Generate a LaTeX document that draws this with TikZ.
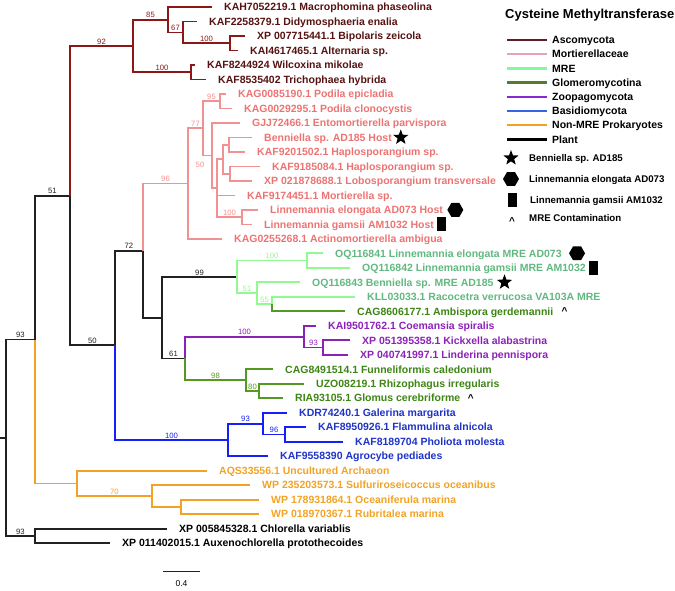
\documentclass[tikz,border=0pt]{standalone}
\usepackage{fontspec}
\setmainfont{Liberation Sans}
\usetikzlibrary{calc,positioning,shapes.geometric}
\definecolor{asco}{rgb}{0.55,0.09,0.09}
\definecolor{ascotext}{rgb}{0.34,0.07,0.07}
\definecolor{mort}{rgb}{0.95,0.57,0.57}
\definecolor{morttext}{rgb}{0.93,0.45,0.45}
\definecolor{mre}{rgb}{0.57,0.98,0.57}
\definecolor{mretext}{rgb}{0.38,0.72,0.50}
\definecolor{glom}{rgb}{0.33,0.60,0.13}
\definecolor{glomtext}{rgb}{0.24,0.52,0.08}
\definecolor{zoop}{rgb}{0.55,0.13,0.72}
\definecolor{basid}{rgb}{0.08,0.12,0.98}
\definecolor{basidtext}{rgb}{0.12,0.20,0.78}
\definecolor{prok}{rgb}{0.95,0.64,0.15}
\definecolor{plant}{rgb}{0.13,0.13,0.13}
\definecolor{ascokey}{rgb}{0.40,0.10,0.16}
\definecolor{mortkey}{rgb}{0.93,0.62,0.72}
\definecolor{mrekey}{rgb}{0.50,0.98,0.62}
\definecolor{glomkey}{rgb}{0.33,0.49,0.16}
\definecolor{zoopkey}{rgb}{0.55,0.16,0.80}
\definecolor{basidkey}{rgb}{0.20,0.40,0.90}
\tikzset{branch/.style={line width=1.8pt}}
\tikzset{leaf/.style={anchor=west, inner sep=0pt, xshift=12pt, text height=7.5pt, text depth=0pt, font=\fontsize{10.5}{12}\selectfont\bfseries}}
\tikzset{boot/.style={anchor=south, inner sep=1.5pt, font=\fontsize{7.7}{8}\selectfont}}
\tikzset{key/.style={anchor=west, inner sep=0pt, text height=7.5pt, text depth=0pt, font=\fontsize{10.5}{12}\selectfont\bfseries}}
\tikzset{symtext/.style={anchor=west, inner sep=0pt, text height=7pt, text depth=0pt, font=\fontsize{9.7}{11}\selectfont\bfseries}}
\tikzset{starmark/.style={star, star points=5, star point ratio=2.4, fill=black, minimum size=16pt, inner sep=0pt}}
\tikzset{hexmark/.style={regular polygon, regular polygon sides=6, fill=black, minimum size=16pt, inner sep=0pt}}
\tikzset{sqmark/.style={rectangle, fill=black, minimum width=9pt, minimum height=14pt, inner sep=0pt}}
\tikzset{caret/.style={inner sep=0pt, font=\fontsize{10}{11}\selectfont\bfseries}}

\begin{document}
\begin{tikzpicture}[x=1pt, y=-1pt]
\useasboundingbox (0,0) rectangle (675,590);
\foreach \n/\x/\y in {stub/0/437.7, root/6/437.7, n93a/35/339.5, p93/35/535.95, n51/70/195.6, n50/115/345.25,
  n72/143/250.6, n318/162/317.65, n61/185/358.4, aAll/133/45.95, a1234/168/19.7, a234/183/32.4, a34/230/43.25,
  a56/191/72.2, m96/188/183.55, m77/203/128.3, m95/220/101.15, mX/212/155.5, mY/217/188.15, mP3/223/159.15,
  mP1/229/144.65, mP2/230/173.65, mL/242/217.15, mre99/237/276.9, mre100/307/260.55, mre51/257/293.2,
  mre55/272/304.05, z100/304/336.7, z93/323/347.55, g98/246/380.1, g80/259/390.95, b100/228/439.9,
  b93/263/423.6, b96/285/434.45, oAll/77/483.4, o70/152/496.1, o3/181/506.95}
  \coordinate (\n) at (\x,\y);

\foreach \n/\x/\y/\t in {macro/212/7.0/KAH7052219.1 Macrophomina phaseolina, didym/197/21.5/KAF2258379.1 Didymosphaeria enalia,
  bipol/245/36.0/XP 007715441.1 Bipolaris zeicola, alter/238/50.5/KAI4617465.1 Alternaria sp.,
  wilco/195/65.0/KAF8244924 Wilcoxina mikolae, trich/206/79.4/KAF8535402 Trichophaea hybrida} {
  \coordinate (\n) at (\x,\y);
  \node[leaf, text=ascotext] (\n l) at (\n) {\t};
}
\foreach \n/\x/\y/\t in {podep/226/93.9/KAG0085190.1 Podila epicladia, podcl/232/108.4/KAG0029295.1 Podila clonocystis,
  entom/240/122.9/GJJ72466.1 Entomortierella parvispora, benhost/252/137.4/Benniella sp. AD185 Host,
  hapla/245/151.9/KAF9201502.1 Haplosporangium sp., haplb/260/166.4/KAF9185084.1 Haplosporangium sp.,
  lobos/252/180.9/XP 021878688.1 Lobosporangium transversale, morti/235/195.4/KAF9174451.1 Mortierella sp.,
  lelhost/258/209.9/Linnemannia elongata AD073 Host, lgahost/252/224.4/Linnemannia gamsii AM1032 Host,
  actin/222/238.8/KAG0255268.1 Actinomortierella ambigua} {
  \coordinate (\n) at (\x,\y);
  \node[leaf, text=morttext] (\n l) at (\n) {\t};
}
\foreach \n/\x/\y/\t in {lelmre/323/253.3/OQ116841 Linnemannia elongata MRE AD073, lgamre/350/267.8/OQ116842 Linnemannia gamsii MRE AM1032,
  benmre/300/282.3/OQ116843 Benniella sp. MRE AD185, racoc/355/296.8/KLL03033.1 Racocetra verrucosa VA103A MRE} {
  \coordinate (\n) at (\x,\y);
  \node[leaf, text=mretext] (\n l) at (\n) {\t};
}
\foreach \n/\x/\y/\t in {ambis/345/311.3/CAG8606177.1 Ambispora gerdemannii, funne/273/369.3/CAG8491514.1 Funneliformis caledonium,
  rhizo/304/383.7/UZO08219.1 Rhizophagus irregularis, glomu/283/398.2/RIA93105.1 Glomus cerebriforme} {
  \coordinate (\n) at (\x,\y);
  \node[leaf, text=glomtext] (\n l) at (\n) {\t};
}
\foreach \n/\x/\y/\t in {coema/316/325.8/KAI9501762.1 Coemansia spiralis, kickx/350/340.3/XP 051395358.1 Kickxella alabastrina,
  linde/348/354.8/XP 040741997.1 Linderina pennispora} {
  \coordinate (\n) at (\x,\y);
  \node[leaf, text=zoop] (\n l) at (\n) {\t};
}
\foreach \n/\x/\y/\t in {galer/287/412.7/KDR74240.1 Galerina margarita, flamm/306/427.2/KAF8950926.1 Flammulina alnicola,
  pholi/343/441.7/KAF8189704 Pholiota molesta, agroc/268/456.2/KAF9558390 Agrocybe pediades} {
  \coordinate (\n) at (\x,\y);
  \node[leaf, text=basidtext] (\n l) at (\n) {\t};
}
\foreach \n/\x/\y/\t in {archa/207/470.7/AQS33556.1 Uncultured Archaeon, sulfu/250/485.2/WP 235203573.1 Sulfuriroseicoccus oceanibus,
  ocean/259/499.7/WP 178931864.1 Oceaniferula marina, rubri/259/514.2/WP 018970367.1 Rubritalea marina} {
  \coordinate (\n) at (\x,\y);
  \node[leaf, text=prok] (\n l) at (\n) {\t};
}
\foreach \n/\x/\y/\t in {chlor/167/528.7/XP 005845328.1 Chlorella variablis, auxen/110/543.2/XP 011402015.1 Auxenochlorella protothecoides} {
  \coordinate (\n) at (\x,\y);
  \node[leaf, text=black] (\n l) at (\n) {\t};
}

\draw[branch, plant] (stub) -- (root);
\foreach \p/\c in {root/n93a, root/p93, n93a/n51, n51/n50, n50/n72, n72/n318, n318/mre99, n318/n61, p93/chlor, p93/auxen}
  \draw[branch, plant] (\p) |- (\c);
\foreach \p/\c in {n51/aAll, aAll/a1234, aAll/a56, a1234/macro, a1234/a234, a234/didym, a234/a34, a34/bipol, a34/alter, a56/wilco, a56/trich}
  \draw[branch, asco] (\p) |- (\c);
\foreach \p/\c in {n72/m96, m96/m77, m96/actin, m77/m95, m77/mX, mX/entom, mX/mY, m95/podep, m95/podcl, mY/mP3, mY/morti,
  mY/mL, mP3/mP1, mP3/mP2, mP1/benhost, mP1/hapla, mP2/haplb, mP2/lobos, mL/lelhost, mL/lgahost}
  \draw[branch, mort] (\p) |- (\c);
\foreach \p/\c in {mre99/mre100, mre99/mre51, mre100/lelmre, mre100/lgamre, mre51/benmre, mre51/mre55, mre55/racoc}
  \draw[branch, mre] (\p) |- (\c);
\foreach \p/\c in {mre55/ambis, n61/g98, g98/funne, g98/g80, g80/rhizo, g80/glomu}
  \draw[branch, glom] (\p) |- (\c);
\foreach \p/\c in {n61/z100, z100/coema, z100/z93, z93/kickx, z93/linde}
  \draw[branch, zoop] (\p) |- (\c);
\foreach \p/\c in {n50/b100, b100/b93, b100/agroc, b93/galer, b93/b96, b96/flamm, b96/pholi}
  \draw[branch, basid] (\p) |- (\c);
\foreach \p/\c in {n93a/oAll, oAll/archa, oAll/o70, o70/sulfu, o70/o3, o3/ocean, o3/rubri}
  \draw[branch, prok] (\p) |- (\c);

\foreach \p/\c/\b/\k in {root/n93a/93/plant, root/p93/93/plant, n93a/n51/51/plant, n51/n50/50/plant, n50/n72/72/plant,
  n318/mre99/99/plant, n318/n61/61/plant, n51/aAll/92/asco, aAll/a1234/85/asco, a1234/a234/67/asco, a234/a34/100/asco,
  aAll/a56/100/asco, n72/m96/96/mort, m96/m77/77/mort, m77/m95/95/mort, mY/mL/100/mort,
  mre99/mre100/100/mre, mre99/mre51/51/mre, mre51/mre55/55/mre, n61/z100/100/zoop, z100/z93/93/zoop,
  n61/g98/98/glom, g98/g80/80/glom, n50/b100/100/basid, b100/b93/93/basid, b93/b96/96/basid, oAll/o70/70/prok}
  \node[boot, text=\k] (bs\c) at ($(\p |- \c)!0.5!(\c)$) {\b};
\node[boot, text=mort] (bsmX) at (200,169) {50};

\node[starmark, right=4pt of benhostl] (s1) {};
\node[hexmark, right=4pt of lelhostl] (s2) {};
\node[sqmark, right=3pt of lgahostl] (s3) {};
\node[hexmark, right=7pt of lelmrel] (s4) {};
\node[sqmark, right=3pt of lgamrel] (s5) {};
\node[starmark, right=6pt of benmrel] (s6) {};
\node[caret, right=8pt of ambisl] (s7) {\textasciicircum};
\node[caret, right=7pt of glomul] (s8) {\textasciicircum};

\node[anchor=west, inner sep=0pt, font=\fontsize{13}{14}\selectfont\bfseries] (title) at (505,15) {Cysteine Methyltransferase};
\foreach \k/\t [count=\i] in {ascokey/Ascomycota, mortkey/Mortierellaceae, mrekey/MRE, glomkey/Glomeromycotina,
  zoopkey/Zoopagomycota, basidkey/Basidiomycota, prok/Non-MRE Prokaryotes, black/Plant} {
  \coordinate (k\i) at (507,{25.8+14.2*\i});
  \coordinate (ke\i) at (547,{25.8+14.2*\i});
  \draw[line width=2.4pt, \k] (k\i) -- (ke\i);
  \node[key] (kt\i) at (552,{25.8+14.2*\i}) {\t};
}
\node[starmark] (kstar) at (511,158) {};
\node[symtext] (kstart) at (529,158) {Benniella sp. AD185};
\node[hexmark] (khex) at (511,179) {};
\node[symtext] (khext) at (529,179) {Linnemannia elongata AD073};
\node[sqmark] (ksq) at (512,200) {};
\node[symtext] (ksqt) at (530,200) {Linnemannia gamsii AM1032};
\node[caret] (kcar) at (512,221) {\textasciicircum};
\node[symtext] (kcart) at (529,218) {MRE Contamination};

\coordinate (sb1) at (163,571);
\coordinate (sb2) at (200,571);
\draw[line width=1pt, plant] (sb1) -- (sb2);
\node[font=\fontsize{8.5}{9}\selectfont] (sbt) at (181.5,584) {0.4};
\end{tikzpicture}
\end{document}
